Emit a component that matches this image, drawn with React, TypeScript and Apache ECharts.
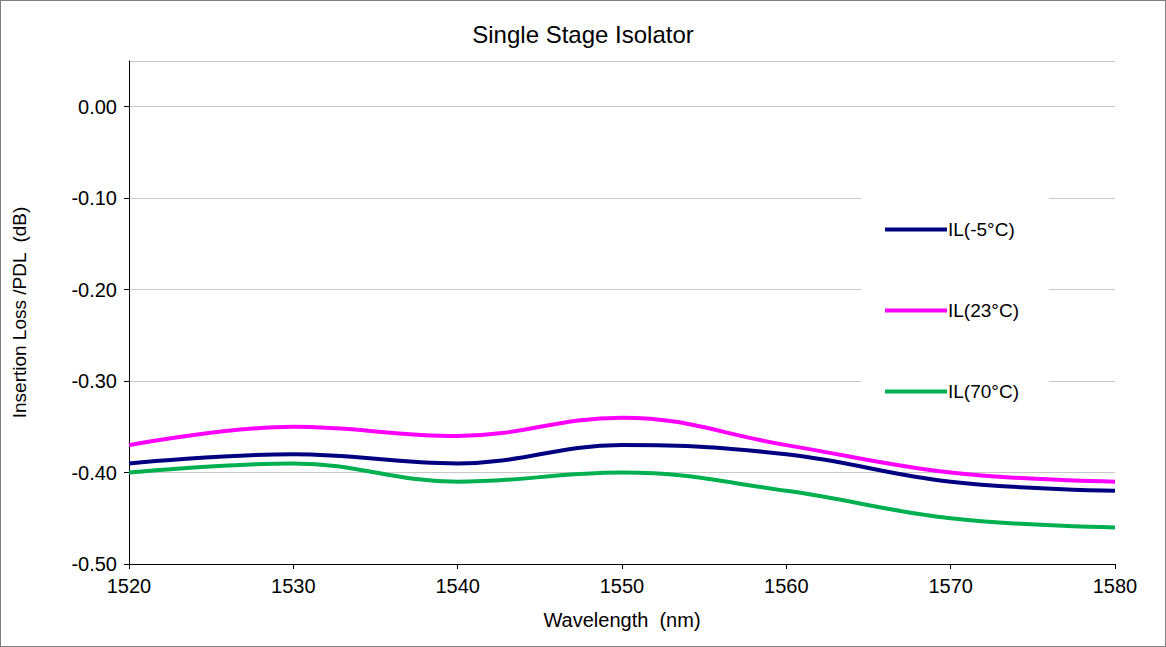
import React, { useEffect, useRef } from 'react';
import * as echarts from 'echarts';

const wavelengths = [1520, 1530, 1540, 1550, 1560, 1570, 1580];
const ilMinus5 = [-0.39, -0.38, -0.39, -0.37, -0.38, -0.41, -0.42];
const il23 = [-0.37, -0.35, -0.36, -0.34, -0.37, -0.40, -0.41];
const il70 = [-0.40, -0.39, -0.41, -0.40, -0.42, -0.45, -0.46];
const seriesNames = ['IL(-5°C)', 'IL(23°C)', 'IL(70°C)'];
const seriesColors = ['#000080', '#ff00ff', '#00b050'];

const font = 'Liberation Sans, Arial, sans-serif';

const App: React.FC = () => {
  const chartRef = useRef<HTMLDivElement>(null);

  useEffect(() => {
    document.body.style.margin = '0';
    if (!chartRef.current) return;
    const chart = echarts.init(chartRef.current, undefined, { renderer: 'svg' });
    const datasets = [ilMinus5, il23, il70];

    chart.setOption({
      animation: false,
      backgroundColor: '#fff',
      title: {
        text: 'Single Stage Isolator',
        left: 'center',
        top: 16,
        textStyle: { fontFamily: font, fontSize: 24, fontWeight: 'normal', color: '#000' },
      },
      grid: { left: 128, right: 50, top: 60, bottom: 82 },
      legend: {
        orient: 'vertical',
        left: 860,
        top: 195,
        icon: 'rect',
        itemWidth: 62,
        itemHeight: 4,
        itemGap: 62,
        padding: [24, 30, 22, 24],
        backgroundColor: '#fff',
        z: 10,
        textStyle: { fontFamily: font, fontSize: 19, color: '#000', padding: [0, 0, 0, -4] },
        data: seriesNames,
      },
      xAxis: {
        type: 'value',
        min: 1520,
        max: 1580,
        interval: 10,
        name: 'Wavelength  (nm)',
        nameLocation: 'middle',
        nameGap: 46,
        nameTextStyle: { fontFamily: font, fontSize: 20, color: '#000' },
        axisLine: { onZero: false, lineStyle: { color: '#000' } },
        axisTick: { show: true, lineStyle: { color: '#000' } },
        axisLabel: {
          fontFamily: font,
          fontSize: 20,
          color: '#000',
          margin: 12,
          formatter: (v: number) => String(v),
        },
        splitLine: { show: false },
        minorSplitLine: { show: false },
      },
      yAxis: {
        type: 'value',
        min: -0.5,
        max: 0.05,
        interval: 0.1,
        name: 'Insertion Loss /PDL  (dB)',
        nameLocation: 'middle',
        nameGap: 100,
        nameTextStyle: { fontFamily: font, fontSize: 19, color: '#000' },
        axisLine: { show: true, onZero: false, lineStyle: { color: '#000' } },
        axisTick: { show: true, lineStyle: { color: '#000' } },
        axisLabel: {
          fontFamily: font,
          fontSize: 20,
          color: '#000',
          margin: 12,
          showMaxLabel: false,
          formatter: (v: number) => (v > 0.001 ? '' : v.toFixed(2)),
        },
        splitLine: { lineStyle: { color: '#c8c8c8' } },
      },
      series: datasets.map((d, i) => ({
        name: seriesNames[i],
        type: 'line',
        smooth: 0.4,
        symbol: 'none',
        lineStyle: { width: 4, color: seriesColors[i] },
        itemStyle: { color: seriesColors[i] },
        data: wavelengths.map((w, j) => [w, d[j]]),
      })),
    });

    return () => chart.dispose();
  }, []);

  return (
    <div
      ref={chartRef}
      style={{ width: 1164, height: 645, border: '1px solid #7f7f7f' }}
    />
  );
};

export default App;
